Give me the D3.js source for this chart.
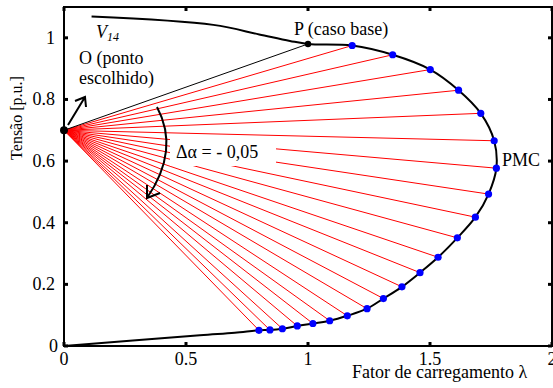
<!DOCTYPE html>
<html>
<head>
<meta charset="utf-8">
<script src="https://cdn.jsdelivr.net/npm/d3@7/dist/d3.min.js"></script>
<style>
  body { margin: 0; background: #fff; }
  svg { display: block; }
  text { font-family: "Liberation Serif", "Times New Roman", serif; fill: #000; }
</style>
</head>
<body>
<svg id="chart" width="553" height="388"></svg>
<script>
// Axis ticks
const xTicks = [0, 0.5, 1, 1.5, 2];
const yTicks = [0, 0.2, 0.4, 0.6, 0.8, 1];

// PV curve of bus 14 (loading factor λ, voltage in p.u.)
const curveLambda = [0.113, 0.612, 0.80, 0.926, 1.0, 1.181, 1.347, 1.501, 1.617, 1.708, 1.763, 1.772, 1.740, 1.686, 1.612, 1.533, 1.459, 1.385, 1.309, 1.242, 1.161, 1.089, 1.020, 0.956, 0.895, 0.844, 0.799, 0.70, 0.557, 0.0];
const curveV      = [1.069, 1.042, 1.011, 0.990, 0.98, 0.975, 0.945, 0.897, 0.830, 0.755, 0.666, 0.577, 0.493, 0.418, 0.351, 0.288, 0.238, 0.192, 0.154, 0.121, 0.098, 0.082, 0.073, 0.065, 0.056, 0.052, 0.051, 0.043, 0.035, 0.0];

// Points found along the rays traced from O, one per Δα step
const rayLambda = [1.181, 1.347, 1.501, 1.617, 1.708, 1.763, 1.772, 1.740, 1.686, 1.612, 1.533, 1.459, 1.385, 1.309, 1.242, 1.161, 1.089, 1.020, 0.956, 0.895, 0.844, 0.799];
const rayV      = [0.975, 0.945, 0.897, 0.830, 0.755, 0.666, 0.577, 0.493, 0.418, 0.351, 0.288, 0.238, 0.192, 0.154, 0.121, 0.098, 0.082, 0.073, 0.065, 0.056, 0.052, 0.051];

// Chosen point O and base case P
const pointO = [0, 0.70];
const pointP = [1.0, 0.98];

const svg = d3.select("#chart");
const x = d3.scaleLinear().domain([0, 2]).range([64, 552]);
const y = d3.scaleLinear().domain([0, 1.1]).range([346, 7]);

// PV curve
const curve = d3.range(curveLambda.length).map(i => [curveLambda[i], curveV[i]]);
svg.append("path")
  .datum(curve)
  .attr("fill", "none")
  .attr("stroke", "#000")
  .attr("stroke-width", 2)
  .attr("d", d3.line().x(d => x(d[0])).y(d => y(d[1])).curve(d3.curveCatmullRom));

// Rays from O
const rays = d3.range(rayLambda.length).map(i => [rayLambda[i], rayV[i]]);
svg.append("g").selectAll("line").data(rays).join("line")
  .attr("x1", x(pointO[0])).attr("y1", y(pointO[1]))
  .attr("x2", d => x(d[0])).attr("y2", d => y(d[1]))
  .attr("stroke", "#ff0000").attr("stroke-width", 1);

// O to P
svg.append("line")
  .attr("x1", x(pointO[0])).attr("y1", y(pointO[1]))
  .attr("x2", x(pointP[0])).attr("y2", y(pointP[1]))
  .attr("stroke", "#000").attr("stroke-width", 1);

// Label for the angle step, on a white box
const dLabel = svg.append("g");
dLabel.append("rect").attr("x", 170).attr("y", 137).attr("width", 106).attr("height", 29).attr("fill", "#fff");
dLabel.append("text").attr("x", 176).attr("y", 158).attr("font-size", 18).text("Δα = - 0,05");

// Points on the curve
svg.append("g").selectAll("circle").data(rays).join("circle")
  .attr("cx", d => x(d[0])).attr("cy", d => y(d[1])).attr("r", 3.6)
  .attr("fill", "#0000ff");

svg.append("circle").attr("cx", x(pointP[0])).attr("cy", y(pointP[1])).attr("r", 3.2).attr("fill", "#000");
svg.append("circle").attr("cx", x(pointO[0])).attr("cy", y(pointO[1])).attr("r", 4).attr("fill", "#000");

// Arrows
const arrows = svg.append("g").attr("stroke", "#000").attr("stroke-width", 2).attr("fill", "none");
arrows.append("path").attr("d", "M68,125 L85,97 M75,101 L85,97 L86,107");
arrows.append("path").attr("d", "M157,107 Q180,150 147,198");
arrows.append("path").attr("d", "M147,185 L147,198 L160,193");

// Frame and ticks
const frame = svg.append("g");
frame.append("rect").attr("x", 64).attr("y", 7).attr("width", 488).attr("height", 339)
  .attr("fill", "none").attr("stroke", "#000").attr("stroke-width", 2);

const tl = 4;
frame.append("g").selectAll("line").data(xTicks).join("line")
  .attr("x1", d => x(d)).attr("x2", d => x(d)).attr("y1", 346).attr("y2", 346 - tl)
  .attr("stroke", "#000").attr("stroke-width", 3);
frame.append("g").selectAll("line").data(xTicks).join("line")
  .attr("x1", d => x(d)).attr("x2", d => x(d)).attr("y1", 7).attr("y2", 7 + tl)
  .attr("stroke", "#000").attr("stroke-width", 3);
frame.append("g").selectAll("line").data(yTicks).join("line")
  .attr("x1", 64).attr("x2", 64 + tl).attr("y1", d => y(d)).attr("y2", d => y(d))
  .attr("stroke", "#000").attr("stroke-width", 3);
frame.append("g").selectAll("line").data(yTicks).join("line")
  .attr("x1", 552).attr("x2", 552 - tl).attr("y1", d => y(d)).attr("y2", d => y(d))
  .attr("stroke", "#000").attr("stroke-width", 3);

// Tick labels
svg.append("g").selectAll("text").data(xTicks).join("text")
  .attr("x", d => x(d)).attr("y", 365).attr("text-anchor", "middle").attr("font-size", 18)
  .text(d => d3.format("~g")(d));
svg.append("g").selectAll("text").data(yTicks).join("text")
  .attr("x", d => d === 0 ? 58 : 55).attr("y", d => y(d) + 6).attr("text-anchor", "end").attr("font-size", 18)
  .text(d => d3.format("~g")(d));

// Axis titles
svg.append("text").attr("x", 352).attr("y", 378).attr("font-size", 18).text("Fator de carregamento λ");
svg.append("text").attr("transform", "translate(22,118) rotate(-90)").attr("text-anchor", "middle")
  .attr("font-size", 16).text("Tensão [p.u.]");

// Annotations
svg.append("text").attr("x", 294).attr("y", 35).attr("font-size", 18).text("P (caso base)");
svg.append("text").attr("x", 79).attr("y", 64).attr("font-size", 18).text("O (ponto");
svg.append("text").attr("x", 79).attr("y", 84).attr("font-size", 18).text("escolhido)");
svg.append("text").attr("x", 502).attr("y", 166).attr("font-size", 18).text("PMC");
const v14 = svg.append("text").attr("x", 96).attr("y", 38).attr("font-size", 18).attr("font-style", "italic");
v14.append("tspan").text("V");
v14.append("tspan").attr("font-size", 12).attr("dy", 3).text("14");
</script>
</body>
</html>
